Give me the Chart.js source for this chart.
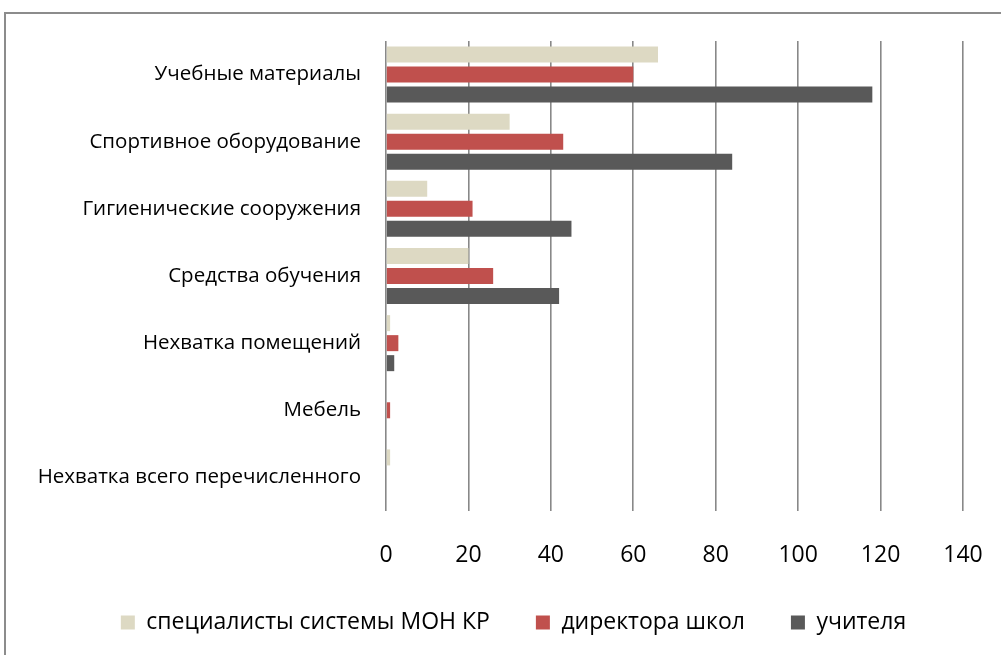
<!DOCTYPE html>
<html>
<head>
<meta charset="utf-8">
<script src="https://cdn.jsdelivr.net/npm/chart.js@4/dist/chart.umd.min.js"></script>
<style>
  body { margin: 0; background: #fff; overflow: hidden; }
  #frame { position: absolute; left: 4px; top: 12px; width: 1100px; height: 700px; border: 2px solid #8c8c8c; }
  #wrap { position: absolute; left: 0; top: 0; width: 1001px; height: 655px; }
</style>
</head>
<body>
<div id="frame"></div>
<div id="wrap"><canvas id="myChart"></canvas></div>
<script>
// categories
var categories = [
  'Учебные материалы',
  'Спортивное оборудование',
  'Гигиенические сооружения',
  'Средства обучения',
  'Нехватка помещений',
  'Мебель',
  'Нехватка всего перечисленного'
];

// series
var specialists = [66, 30, 10, 20, 1, 0, 1];
var directors = [60, 43, 21, 26, 3, 1, 0];
var teachers = [118, 84, 45, 42, 2, 0, 0];

var seriesNames = ['специалисты системы МОН КР', 'директора школ', 'учителя'];
var xTicks = [0, 20, 40, 60, 80, 100, 120, 140];

var fontName = "'Open Sans', 'Noto Sans', sans-serif";

// let the long category names run past the left padding without being clipped
var wideLabels = {
  id: 'wideLabels',
  afterLayout: function (chart) {
    chart.scales.y.left = 0;
  }
};

const data = {
  labels: categories,
  datasets: [
    { label: seriesNames[0], data: specialists, backgroundColor: '#ddd9c3' },
    { label: seriesNames[1], data: directors, backgroundColor: '#c0504d' },
    { label: seriesNames[2], data: teachers, backgroundColor: '#595959' }
  ]
};

const config = {
  type: 'bar',
  data: data,
  plugins: [wideLabels],
  options: {
    indexAxis: 'y',
    responsive: true,
    maintainAspectRatio: false,
    animation: false,
    categoryPercentage: 0.894,
    barPercentage: 0.8,
    layout: { padding: { left: 64, right: 38, top: 41, bottom: 11 } },
    scales: {
      x: {
        min: xTicks[0],
        max: xTicks[xTicks.length - 1],
        afterBuildTicks: function (scale) {
          scale.ticks = xTicks.map(function (v) { return { value: v }; });
        },
        afterFit: function (scale) {
          scale.height = 54;
          scale.paddingLeft = 0;
          scale.paddingRight = 0;
        },
        grid: { color: '#888888', lineWidth: 1.6, drawTicks: false },
        border: { display: false },
        ticks: { color: '#000', padding: 31, font: { family: fontName, size: 23 } }
      },
      y: {
        afterFit: function (scale) {
          scale.width = 322;
          scale.paddingTop = 0;
          scale.paddingBottom = 0;
        },
        grid: { display: false },
        border: { display: false },
        ticks: { color: '#000', padding: 17, font: { family: fontName, size: 20.5 } }
      }
    },
    plugins: {
      tooltip: { enabled: false },
      legend: {
        position: 'bottom',
        labels: {
          color: '#000',
          boxWidth: 14,
          boxHeight: 14,
          padding: 46,
          font: { family: fontName, size: 23 }
        }
      }
    }
  }
};

const myChart = new Chart(document.getElementById('myChart'), config);
</script>
</body>
</html>
